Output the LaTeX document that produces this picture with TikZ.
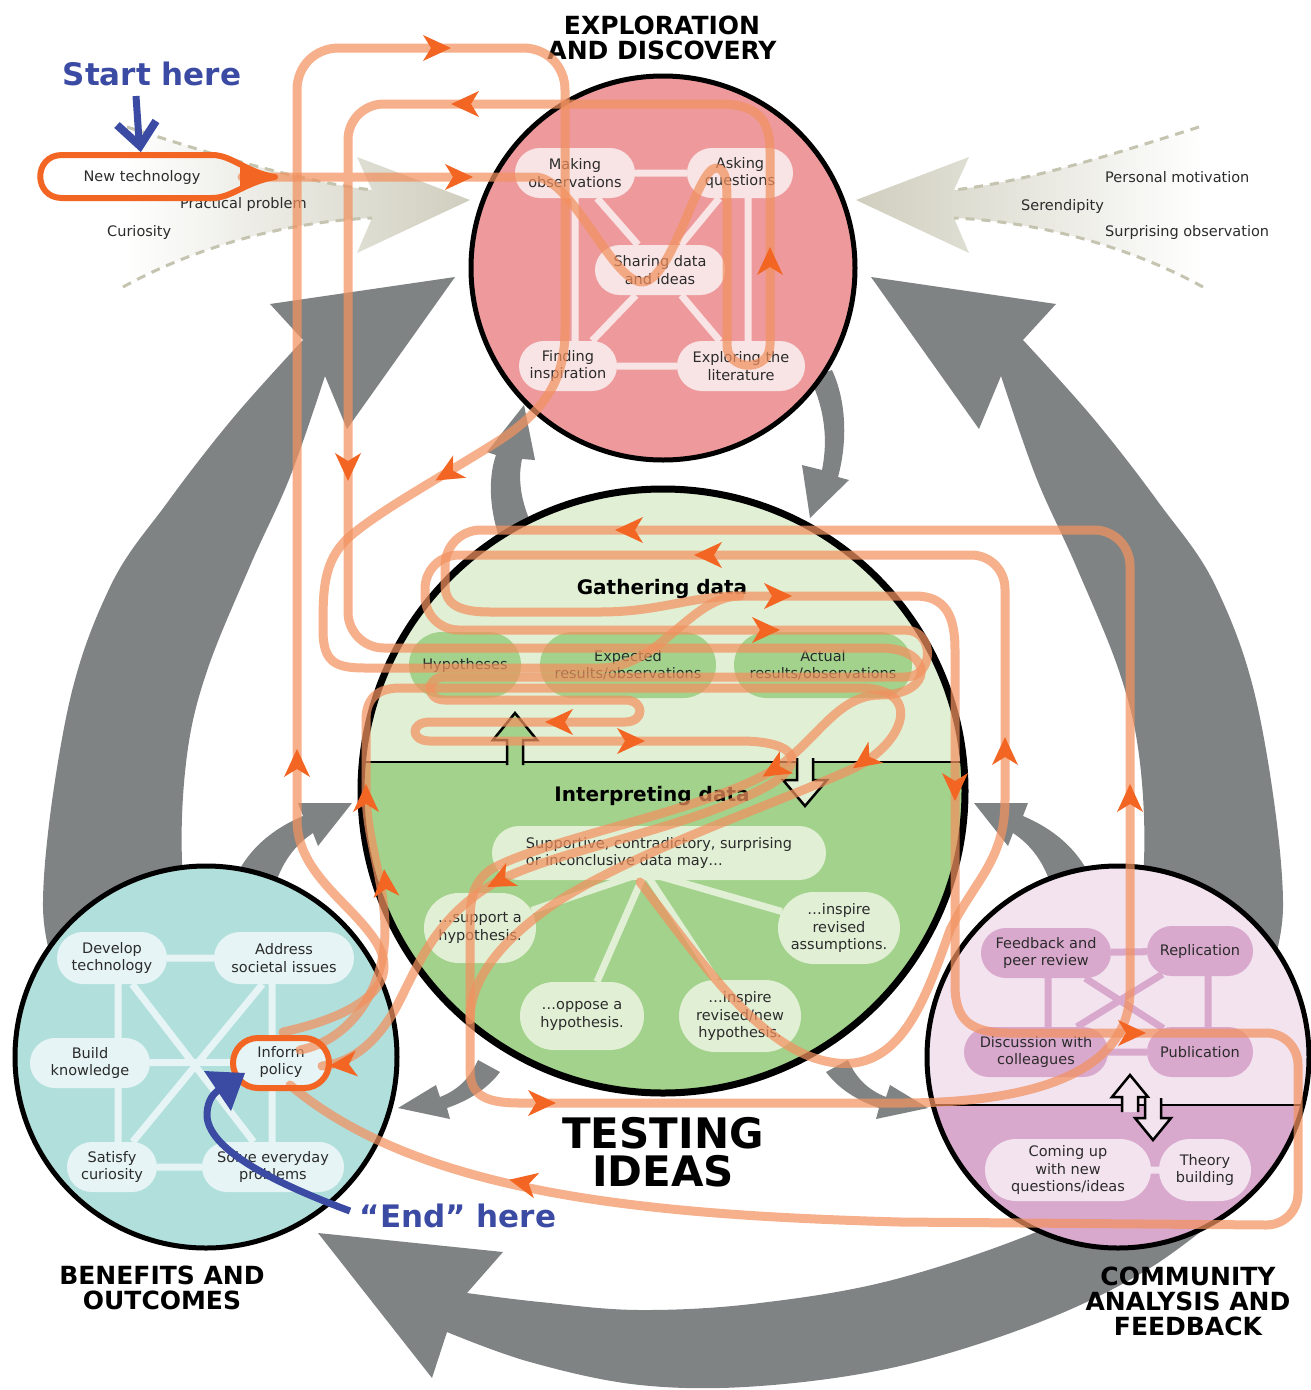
\documentclass[tikz,border=0pt]{standalone}
\usepackage{fontspec}
\setmainfont{DejaVu Sans}
\usetikzlibrary{shapes.misc}
\pgfdeclarelayer{back}
\pgfdeclarelayer{links}
\pgfdeclarelayer{front}
\pgfsetlayers{back,links,main,front}

\definecolor{gr}{HTML}{808384}
\definecolor{beige}{HTML}{CFCEBE}
\definecolor{beigedash}{HTML}{C5C4B0}
\definecolor{redc}{HTML}{EE9A9D}
\definecolor{redb}{HTML}{F9E4E5}
\definecolor{grnl}{HTML}{E1EFD5}
\definecolor{grnd}{HTML}{A2D28B}
\definecolor{bluc}{HTML}{B1DFDC}
\definecolor{blub}{HTML}{E6F4F5}
\definecolor{purl}{HTML}{F3E3EF}
\definecolor{purd}{HTML}{D9A9CD}
\definecolor{orl}{HTML}{F2915F}
\definecolor{ord}{HTML}{F26522}
\definecolor{bluet}{HTML}{3B4BA3}
\definecolor{txt}{HTML}{2B2B2B}

% orange arrowhead placed on a route: x, y, direction
\newcommand\orarrow[3]{\pic[rotate=#3] at (#1,#2) {oarr};}

% the two side gray arrows between a corner circle and the central circle
\newcommand\sidegrayarrows{%
  \fill[gr] (232,885) .. controls (245,852) and (270,830) .. (303,816) -- (298,803) -- (352,803) -- (318,846) -- (313,833) .. controls (295,845) and (282,862) .. (274,888) -- cycle;
  \fill[gr] (440,1097) -- (436,1085) -- (398,1108) -- (450,1119) -- (447,1108) .. controls (470,1100) and (488,1088) .. (500,1072) -- (478,1060) .. controls (470,1078) and (458,1090) .. (440,1097) -- cycle;
}
% big gray ring arrow on the left side
\newcommand\biggrayside{%
  \fill[gr] plot[smooth, tension=0.6] coordinates {(70,1010) (43,907) (67,713) (110,587) (167,503) (233,418) (303,340)} -- (270,304) -- (455,277) -- (347,429) -- plot[smooth, tension=0.6] coordinates {(325,376) (290,477) (250,566) (207,671) (187,755) (182,860) (195,960)} -- cycle;
}
% beige input funnel on the left (shading colours: page left, page right)
\newcommand\beigefunnel[2]{%
  \shade[left color=#1, right color=#2] (127,127) .. controls (200,150) and (290,180) .. (372,190) -- (357,157) -- (470,200) -- (357,253) -- (372,218) .. controls (280,222) and (190,250) .. (123,287) -- cycle;
  \draw[beigedash, line width=3pt, dash pattern=on 9pt off 7pt] (127,127) .. controls (200,150) and (290,180) .. (372,190);
  \draw[beigedash, line width=3pt, dash pattern=on 9pt off 7pt] (123,287) .. controls (190,250) and (280,222) .. (372,218);
}

\begin{document}
\begin{tikzpicture}[x=1pt,y=-1pt,
  every node/.style={inner sep=0pt},
  lbl/.style={font=\fontsize{14.5}{17.5}\selectfont, text=txt, align=center},
  bub/.style={rounded rectangle, align=center, font=\fontsize{14.5}{17.5}\selectfont, text=txt, minimum height=50pt},
  ttl/.style={font=\bfseries\fontsize{25}{25}\selectfont, align=center, text=black},
  hd/.style={font=\bfseries\fontsize{20}{22}\selectfont, text=black},
  link/.style={line width=7pt},
  orng/.style={draw=orl, draw opacity=0.72, line width=9pt, line cap=round, line join=round},
  oarr/.pic={\fill[ord] (11,0) -- (-17,-13) -- (-9,0) -- (-17,13) -- cycle;},
  blk/.style={draw=black, line width=2.5pt, line join=miter},
]
\useasboundingbox (0,0) rectangle (1310,1390);

% ================= background: gray cycle, funnels, circles
\begin{pgfonlayer}{back}
\biggrayside
\begin{scope}[xshift=1326pt, xscale=-1]
  \biggrayside
\end{scope}
% bottom ring arrow
\fill[gr] plot[smooth, tension=0.6] coordinates {(1190,1150) (1060,1222) (900,1278) (760,1303) (640,1310) (540,1302) (467,1293)} -- (503,1252) -- (318,1233) -- (432,1378) -- plot[smooth, tension=0.6] coordinates {(447,1332) (530,1362) (640,1385) (760,1386) (900,1366) (1040,1322) (1150,1268) (1240,1200)} -- cycle;

% small arrows between exploration and testing
\fill[gr] (500,540) .. controls (488,505) and (489,475) .. (496,455) -- (487,452) -- (524,405) -- (535,460) -- (522,459) .. controls (517,482) and (522,508) .. (537,535) -- cycle;
\fill[gr] (810,378) .. controls (825,410) and (828,440) .. (822,470) -- (802,465) -- (810,518) -- (849,480) -- (838,477) .. controls (848,440) and (846,400) .. (832,370) -- cycle;
\sidegrayarrows
\begin{scope}[xshift=1326pt, xscale=-1]
  \sidegrayarrows
\end{scope}

\beigefunnel{white}{beige}
\begin{scope}[xshift=1326pt, xscale=-1]
  \beigefunnel{beige}{white}
\end{scope}

% exploration and discovery
\fill[redc] (663,268) circle[radius=192pt];
\draw[line width=5pt] (663,268) circle[radius=192pt];
% testing ideas
\begin{scope}
  \clip (663,791) circle[radius=302pt];
  \fill[grnl] (350,480) rectangle (980,762);
  \fill[grnd] (350,762) rectangle (980,1100);
  \draw[line width=2.5pt] (350,762) -- (980,762);
\end{scope}
\draw[line width=7pt] (663,791) circle[radius=302pt];
% benefits and outcomes
\fill[bluc] (206,1057) circle[radius=191pt];
\draw[line width=5pt] (206,1057) circle[radius=191pt];
% community analysis and feedback
\begin{scope}
  \clip (1118,1057) circle[radius=191pt];
  \fill[purl] (920,860) rectangle (1320,1105);
  \fill[purd] (920,1105) rectangle (1320,1260);
  \draw[line width=2.5pt] (920,1105) -- (1320,1105);
\end{scope}
\draw[line width=5pt] (1118,1057) circle[radius=191pt];
\end{pgfonlayer}

% ================= nodes
% exploration
\node[bub, fill=redb, minimum width=120pt] (mo) at (575,173) {Making\\observations};
\node[bub, fill=redb, minimum width=106pt] (aq) at (740,173) {Asking\\questions};
\node[bub, fill=redb, minimum width=130pt] (sd) at (660,270) {Sharing data\\and ideas};
\node[bub, fill=redb, minimum width=98pt] (fi) at (568,366) {Finding\\inspiration};
\node[bub, fill=redb, minimum width=128pt] (el) at (741,366) {Exploring the\\literature};

% testing: gathering
\node[hd] (gather) at (662,589) {Gathering data};
\node[bub, fill=grnd, minimum width=112pt, minimum height=66pt] (hyp) at (465,665) {Hypotheses};
\node[bub, fill=grnd, minimum width=176pt, minimum height=66pt] (exp) at (628,665) {Expected\\results/observations};
\node[bub, fill=grnd, minimum width=178pt, minimum height=66pt] (act) at (823,665) {Actual\\results/observations};
% testing: interpreting
\node[hd] (interp) at (652,796) {Interpreting data};
\node[bub, fill=grnl, minimum width=334pt, minimum height=54pt, align=left] (sup) at (659,853) {Supportive, contradictory, surprising\\or inconclusive data may…};
\node[bub, fill=grnl, minimum width=112pt, minimum height=70pt] (s1) at (480,928) {…support a\\hypothesis.};
\node[bub, fill=grnl, minimum width=124pt, minimum height=68pt] (s2) at (582,1016) {…oppose a\\hypothesis.};
\node[bub, fill=grnl, minimum width=122pt, minimum height=72pt] (s3) at (740,1016) {…inspire\\revised/new\\hypothesis.};
\node[bub, fill=grnl, minimum width=122pt, minimum height=72pt] (s4) at (839,928) {…inspire\\revised\\assumptions.};
\coordinate (hub) at (645,872);

% benefits
\node[bub, fill=blub, minimum width=110pt, minimum height=52pt] (dev) at (112,958) {Develop\\technology};
\node[bub, fill=blub, minimum width=140pt, minimum height=52pt] (addr) at (284,958) {Address\\societal issues};
\node[bub, fill=blub, minimum width=120pt] (build) at (90,1063) {Build\\knowledge};
\node[bub, fill=blub, minimum width=92pt] (inform) at (281,1062) {Inform\\policy};
\node[bub, fill=blub, minimum width=90pt] (sat) at (112,1167) {Satisfy\\curiosity};
\node[bub, fill=blub, minimum width=142pt] (solve) at (273,1167) {Solve everyday\\problems};

% community
\node[bub, fill=purd, minimum width=130pt] (fb) at (1046,953) {Feedback and\\peer review};
\node[bub, fill=purd, minimum width=106pt] (rep) at (1200,951) {Replication};
\node[bub, fill=purd, minimum width=144pt] (disc) at (1036,1052) {Discussion with\\colleagues};
\node[bub, fill=purd, minimum width=106pt] (pub) at (1200,1052) {Publication};
\node[bub, fill=purl, minimum width=166pt, minimum height=62pt] (come) at (1068,1170) {Coming up\\with new\\questions/ideas};
\node[bub, fill=purl, minimum width=92pt, minimum height=62pt] (theory) at (1205,1170) {Theory\\building};

% hollow arrows between the halves
\path[blk, fill=grnd] (507,765) -- (507,740) -- (493,740) -- (515,713) -- (537,740) -- (523,740) -- (523,765);
\path[blk, fill=grnl] (797,758) -- (797,780) -- (783,780) -- (805,806) -- (827,780) -- (813,780) -- (813,758);
\path[blk, fill=purl] (1122,1112) -- (1122,1097) -- (1112,1097) -- (1130,1075) -- (1148,1097) -- (1138,1097) -- (1138,1112);
\path[blk, fill=purl] (1145,1098) -- (1145,1118) -- (1135,1118) -- (1153,1140) -- (1171,1118) -- (1161,1118) -- (1161,1098);

% side inputs
\node[lbl] (newtech) at (142,177) {New technology};
\node[lbl, anchor=west] (prac) at (180,204) {Practical problem};
\node[lbl, anchor=west] (cur) at (107,232) {Curiosity};
\node[lbl, anchor=west] (pers) at (1105,177) {Personal motivation};
\node[lbl, anchor=west] (ser) at (1021,206) {Serendipity};
\node[lbl, anchor=west] (surp) at (1105,232) {Surprising observation};

% titles
\node[ttl] (tExp) at (662,38) {EXPLORATION\\AND DISCOVERY};
\node[ttl] (tBen) at (162,1288) {BENEFITS AND\\OUTCOMES};
\node[ttl] (tCom) at (1188,1301) {COMMUNITY\\ANALYSIS AND\\FEEDBACK};
\node[font=\bfseries\fontsize{42}{38}\selectfont, align=center] (tTest) at (663,1152) {TESTING\\IDEAS};

% ================= links between activities
\begin{pgfonlayer}{links}
\draw[link, redb] (mo) -- (aq) (fi) -- (el) (575,0 |- mo) -- (575,0 |- fi) (748,0 |- aq) -- (748,0 |- el)
  (mo) -- (sd) (aq) -- (sd) (fi) -- (sd) (el) -- (sd);
\draw[link, grnl] (hub) -- (s1) (hub) -- (s2) (hub) -- (s3) (hub) -- (s4);
\draw[link, blub] (dev) -- (addr) (build) -- (inform) (sat) -- (solve)
  (118,0 |- dev) -- (118,0 |- sat) (272,0 |- addr) -- (272,0 |- solve)
  (dev) -- (solve) (addr) -- (sat);
\draw[link, purd] (fb) -- (rep) (disc) -- (pub) (1048,0 |- fb) -- (1048,0 |- disc)
  (1208,0 |- rep) -- (1208,0 |- pub) (fb) -- (pub) (rep) -- (disc);
\draw[link, purl] (come) -- (theory);
\end{pgfonlayer}

% ================= routes through the process
\begin{pgfonlayer}{front}
% route from new technology
\draw[orng] (242,177) -- (535,177) .. controls (572,177) and (612,282) .. (642,282) .. controls (672,282) and (697,168) .. (716,168) .. controls (727,168) and (727,185) .. (727,205) -- (727,345) .. controls (727,372) and (770,372) .. (770,345) -- (770,150) .. controls (770,118) and (755,104) .. (720,104) -- (384,104) .. controls (364,104) and (348,120) .. (348,140) -- (348,612) .. controls (348,632) and (364,648) .. (384,648) -- (880,648) .. controls (935,648) and (935,695) .. (880,695) .. controls (835,695) and (815,745) .. (770,772) .. controls (700,812) and (540,840) .. (490,870) .. controls (470,885) and (470,905) .. (470,930) -- (470,1070) .. controls (470,1095) and (485,1103) .. (520,1103) -- (900,1103) .. controls (1060,1103) and (1130,1060) .. (1130,990) -- (1130,566) .. controls (1130,546) and (1114,530) .. (1094,530) -- (481,530) .. controls (461,530) and (445,546) .. (445,566) -- (445,585) .. controls (445,605) and (460,612) .. (490,612) -- (600,612) .. controls (660,612) and (690,596) .. (740,596);
% outer loop
\draw[orng] (283,1032) .. controls (360,1015) and (400,985) .. (378,945) .. controls (355,905) and (297,875) .. (297,820) -- (297,90) .. controls (297,66) and (315,48) .. (339,48) -- (523,48) .. controls (547,48) and (565,66) .. (565,90) -- (565,330) .. controls (565,380) and (545,410) .. (500,440) .. controls (440,478) and (380,510) .. (348,538) .. controls (323,562) and (323,590) .. (323,630) .. controls (323,662) and (335,668) .. (365,668) -- (600,668) .. controls (660,668) and (690,596) .. (740,596) -- (915,596) .. controls (945,596) and (955,615) .. (955,650) -- (955,985) .. controls (955,1020) and (970,1033) .. (1010,1033) -- (1266,1033) .. controls (1284,1033) and (1298,1047) .. (1298,1065) -- (1298,1193) .. controls (1298,1211) and (1284,1225) .. (1266,1225) -- (900,1222) .. controls (650,1215) and (420,1195) .. (290,1085);
% serpentine through gathering data
\draw[orng] (640,882) .. controls (700,960) and (760,1050) .. (830,1062) .. controls (900,1075) and (925,1000) .. (950,930) .. controls (975,880) and (1005,860) .. (1005,800) -- (1005,589) .. controls (1005,570) and (990,555) .. (971,555) -- (459,555) .. controls (440,555) and (425,570) .. (425,589) -- (425,596) .. controls (425,615) and (440,630) .. (459,630) -- (905,630) .. controls (935,630) and (935,677) .. (905,677) -- (445,677) .. controls (425,677) and (425,700) .. (445,700) -- (625,700) .. controls (645,700) and (645,722) .. (625,722) -- (430,722) .. controls (410,722) and (410,741) .. (430,741) -- (740,741) .. controls (800,741) and (810,765) .. (760,790) .. controls (680,830) and (560,850) .. (500,880) .. controls (440,912) and (420,960) .. (400,1000) .. controls (385,1030) and (360,1062) .. (322,1066);
% up the left edge of testing ideas
\draw[orng] (300,1050) .. controls (350,1040) and (385,990) .. (385,930) .. controls (385,880) and (366,840) .. (366,790) -- (366,720) .. controls (366,698) and (378,688) .. (400,688) -- (860,688) .. controls (925,688) and (905,745) .. (850,770) .. controls (760,810) and (640,850) .. (560,900) .. controls (500,940) and (470,980) .. (470,1020);

\orarrow{440}{48}{0}
\orarrow{462}{104}{180}
\orarrow{462}{177}{0}
\orarrow{770}{258}{90}
\orarrow{348}{470}{-90}
\orarrow{445}{475}{210}
\orarrow{626}{530}{180}
\orarrow{705}{555}{180}
\orarrow{781}{596}{0}
\orarrow{769}{630}{0}
\orarrow{556}{722}{180}
\orarrow{634}{741}{0}
\orarrow{772}{771}{211}
\orarrow{862}{762}{215}
\orarrow{955}{790}{-90}
\orarrow{1005}{748}{90}
\orarrow{1130}{795}{90}
\orarrow{1135}{1033}{0}
\orarrow{545}{1103}{0}
\orarrow{520}{1182}{168}
\orarrow{340}{1065}{185}
\orarrow{297}{760}{90}
\orarrow{366}{795}{90}
\orarrow{385}{880}{95}
\orarrow{497}{882}{207}

% highlighted start and end activities
\draw[ord, line width=6pt, line join=round] (62,155) -- (212,155) .. controls (232,155) and (245,172) .. (275,177) .. controls (245,182) and (232,198) .. (212,198) -- (62,198) .. controls (33,198) and (33,155) .. (62,155) -- cycle;
\fill[ord] (240,166) .. controls (252,172) and (260,175) .. (275,177) .. controls (260,179) and (252,182) .. (240,188) -- cycle;
\node[rounded rectangle, draw=ord, line width=6pt, minimum width=96pt, minimum height=50pt] (informbox) at (281,1063) {};

% start and end markers
\node[font=\bfseries\fontsize{31}{33}\selectfont, text=bluet] (start) at (152,74) {Start here};
\node[font=\bfseries\fontsize{31}{33}\selectfont, text=bluet] (endlbl) at (458,1216) {“End” here};
\coordinate (sa) at (136,96);
\coordinate (sb) at (139,140);
\draw[bluet, line width=7pt] (sa) -- (sb);
\draw[bluet, line width=8pt, line join=miter] (117,125) -- (140,146) -- (156,121);
\coordinate (ea) at (350,1211);
\coordinate (eb) at (222,1088);
\draw[bluet, line width=7pt] (ea) .. controls (280,1185) and (205,1150) .. (207,1113) .. controls (208,1100) and (213,1093) .. (eb);
\fill[bluet] (204,1071) -- (245,1073) -- (231,1111) -- cycle;
\end{pgfonlayer}
\end{tikzpicture}
\end{document}
